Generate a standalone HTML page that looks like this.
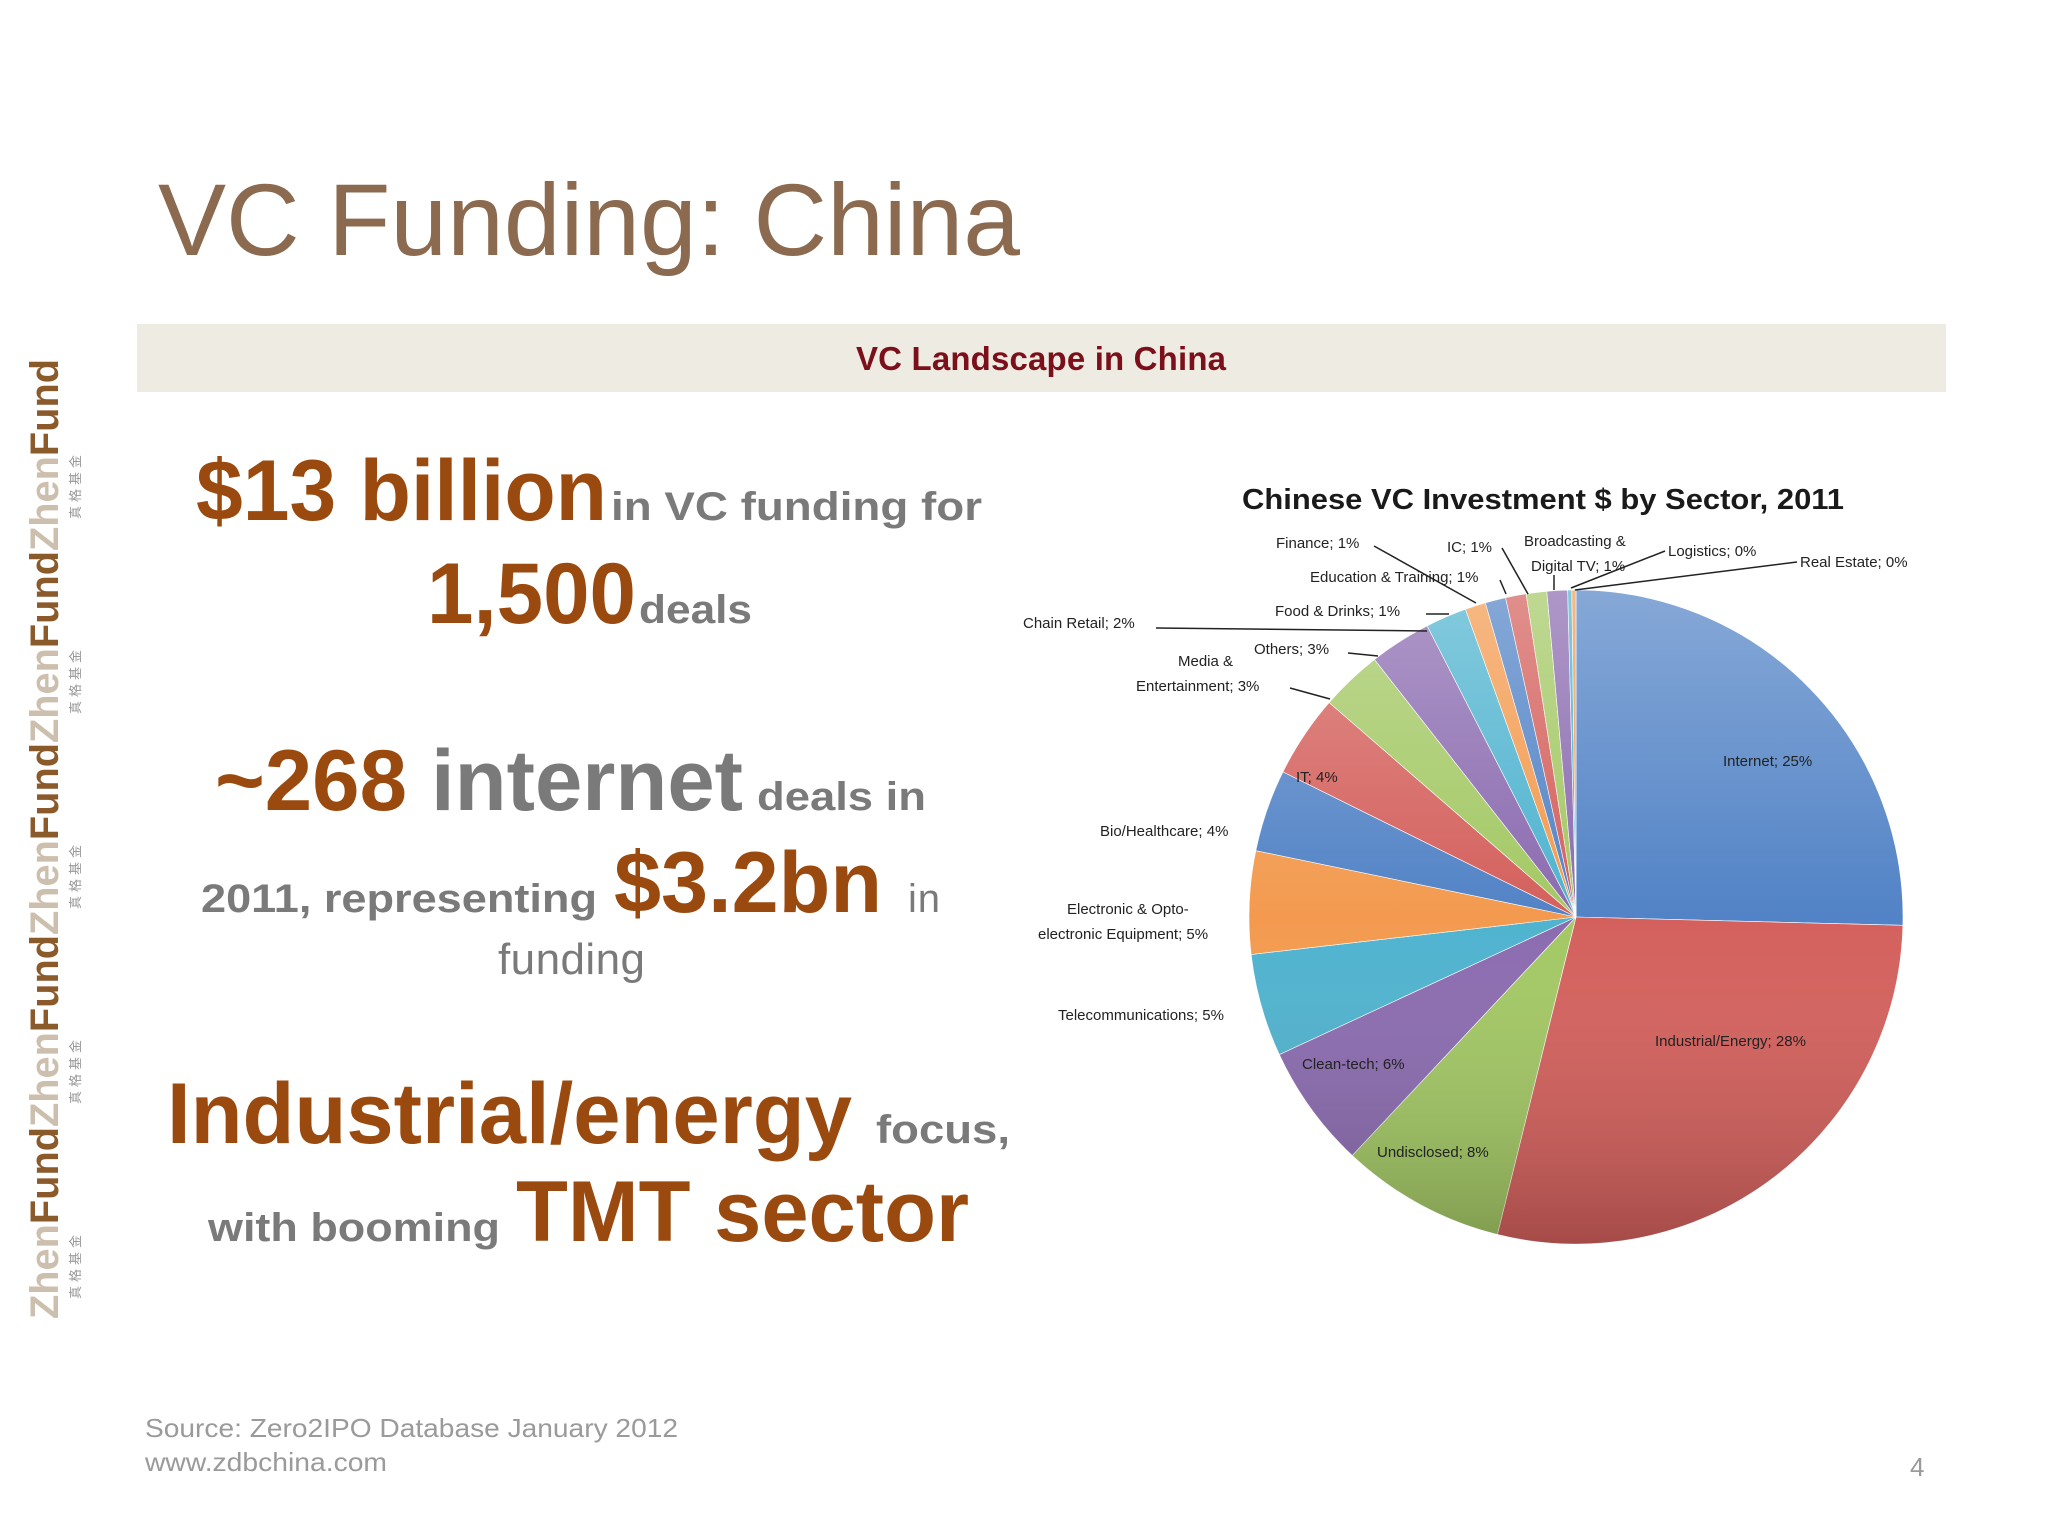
<!DOCTYPE html>
<html><head><meta charset="utf-8">
<style>
html,body{margin:0;padding:0;background:#fff;}
#slide{position:relative;width:2048px;height:1536px;overflow:hidden;background:#fff;font-family:"Liberation Sans",sans-serif;}
svg{position:absolute;left:0;top:0;}
</style></head>
<body>
<div id="slide">
<svg id="main" width="2048" height="1536" viewBox="0 0 2048 1536">
  <defs>
    <linearGradient id="shade" x1="0" y1="0" x2="0" y2="1">
      <stop offset="0" stop-color="#fff" stop-opacity="0.30"/>
      <stop offset="0.5" stop-color="#fff" stop-opacity="0.0"/>
      <stop offset="1" stop-color="#000" stop-opacity="0.22"/>
    </linearGradient>
  </defs>
  <text x="158" y="255" font-size="102" fill="#8C6A4F" textLength="862">VC Funding: China</text>
  <rect x="137" y="324" width="1809" height="68" fill="#EEEBE3"/>
  <text x="1041" y="370" font-size="33" font-weight="bold" fill="#7B0F1A" text-anchor="middle" textLength="370">VC Landscape in China</text>

  <g transform="translate(58,1319) rotate(-90)">
    <text x="0" y="0" font-size="40" font-weight="bold" textLength="960" lengthAdjust="spacingAndGlyphs"><tspan fill="#CDBFAE">Zhen</tspan><tspan fill="#8B5A2B">Fund</tspan><tspan fill="#CDBFAE">Zhen</tspan><tspan fill="#8B5A2B">Fund</tspan><tspan fill="#CDBFAE">Zhen</tspan><tspan fill="#8B5A2B">Fund</tspan><tspan fill="#CDBFAE">Zhen</tspan><tspan fill="#8B5A2B">Fund</tspan><tspan fill="#CDBFAE">Zhen</tspan><tspan fill="#8B5A2B">Fund</tspan></text>
    <text x="20" y="22" font-size="13" fill="#999" letter-spacing="4" font-family="'Noto Sans CJK SC',sans-serif">真格基金</text>
    <text x="215" y="22" font-size="13" fill="#999" letter-spacing="4" font-family="'Noto Sans CJK SC',sans-serif">真格基金</text>
    <text x="410" y="22" font-size="13" fill="#999" letter-spacing="4" font-family="'Noto Sans CJK SC',sans-serif">真格基金</text>
    <text x="605" y="22" font-size="13" fill="#999" letter-spacing="4" font-family="'Noto Sans CJK SC',sans-serif">真格基金</text>
    <text x="800" y="22" font-size="13" fill="#999" letter-spacing="4" font-family="'Noto Sans CJK SC',sans-serif">真格基金</text>
  </g>

  <g font-weight="bold">
    <text x="196" y="520" font-size="86" fill="#9A4A0E" textLength="411" lengthAdjust="spacingAndGlyphs">$13 billion</text>
    <text x="611" y="520" font-size="40" fill="#7A7A7A" textLength="371" lengthAdjust="spacingAndGlyphs">in VC funding for</text>
    <text x="427" y="623" font-size="86" fill="#9A4A0E" textLength="209" lengthAdjust="spacingAndGlyphs">1,500</text>
    <text x="639" y="623" font-size="40" fill="#7A7A7A" textLength="113" lengthAdjust="spacingAndGlyphs">deals</text>
    <text x="215" y="810" font-size="86" fill="#9A4A0E" textLength="192" lengthAdjust="spacingAndGlyphs">~268</text>
    <text x="431" y="810" font-size="86" fill="#7A7A7A" textLength="312" lengthAdjust="spacingAndGlyphs">internet</text>
    <text x="757" y="810" font-size="40" fill="#7A7A7A" textLength="169" lengthAdjust="spacingAndGlyphs">deals in</text>
    <text x="201" y="912" font-size="40" fill="#7A7A7A" textLength="396" lengthAdjust="spacingAndGlyphs">2011, representing</text>
    <text x="614" y="912" font-size="86" fill="#9A4A0E" textLength="268" lengthAdjust="spacingAndGlyphs">$3.2bn</text>
    <text x="908" y="912" font-size="40" font-weight="normal" fill="#7A7A7A" textLength="32">in</text>
    <text x="498" y="974" font-size="44" font-weight="normal" fill="#7A7A7A" textLength="147">funding</text>
    <text x="167" y="1143" font-size="86" fill="#9A4A0E" textLength="685" lengthAdjust="spacingAndGlyphs">Industrial/energy</text>
    <text x="876" y="1143" font-size="40" fill="#7A7A7A" textLength="134" lengthAdjust="spacingAndGlyphs">focus,</text>
    <text x="208" y="1241" font-size="40" fill="#7A7A7A" textLength="292" lengthAdjust="spacingAndGlyphs">with booming</text>
    <text x="516" y="1241" font-size="86" fill="#9A4A0E" textLength="453" lengthAdjust="spacingAndGlyphs">TMT sector</text>
  </g>

  <text x="145" y="1437" font-size="26" fill="#9A9A9A" textLength="533" lengthAdjust="spacingAndGlyphs">Source: Zero2IPO Database January 2012</text>
  <text x="145" y="1471" font-size="26" fill="#9A9A9A" textLength="242" lengthAdjust="spacingAndGlyphs">www.zdbchina.com</text>
  <text x="1910" y="1476" font-size="26" fill="#9A9A9A">4</text>

  <text x="1543" y="509" font-size="29" font-weight="bold" fill="#1a1a1a" text-anchor="middle" textLength="602" lengthAdjust="spacingAndGlyphs">Chinese VC Investment $ by Sector, 2011</text>
  <g id="pie"></g>
  <g id="labels" font-size="15" fill="#222"></g>
</svg>
</div>
<script>
const sectors = ["Internet","Industrial/Energy","Undisclosed","Clean-tech","Telecommunications","Electronic & Opto-electronic Equipment","Bio/Healthcare","IT","Media & Entertainment","Others","Chain Retail","Food & Drinks","Education & Training","Finance","IC","Broadcasting & Digital TV","Logistics","Real Estate"];
const shares = [25,28,8,6,5,5,4,4,3,3,2,1,1,1,1,1,0.2,0.2];
const printed = ["25%","28%","8%","6%","5%","5%","4%","4%","3%","3%","2%","1%","1%","1%","1%","1%","0%","0%"];
const palette = ["#5283C6","#D4605C","#A3C864","#8B6BB0","#4FB3CF","#F39A4F"];
// label layout: [line1, line2, x, y(baseline of last line), anchor, leader x1,y1,x2,y2]
const layout = [
 [null,"Internet; ",1723,766,"start"],
 [null,"Industrial/Energy; ",1655,1046,"start"],
 [null,"Undisclosed; ",1377,1157,"start"],
 [null,"Clean-tech; ",1302,1069,"start"],
 [null,"Telecommunications; ",1058,1020,"start"],
 ["Electronic & Opto-","electronic Equipment; ",1038,939,"start"],
 [null,"Bio/Healthcare; ",1100,836,"start"],
 [null,"IT; ",1296,782,"start"],
 ["Media & ","Entertainment; ",1136,691,"start",1290,688,1330,699],
 [null,"Others; ",1254,654,"start",1348,653,1378,656],
 [null,"Chain Retail; ",1023,628,"start",1156,628,1427,631],
 [null,"Food & Drinks; ",1275,616,"start",1426,614,1449,614],
 [null,"Education & Training; ",1310,582,"start",1500,580,1506,594],
 [null,"Finance; ",1276,548,"start",1374,546,1476,603],
 [null,"IC; ",1447,552,"start",1502,548,1528,594],
 ["Broadcasting & ","Digital TV; ",1524,571,"start",1554,575,1554,590],
 [null,"Logistics; ",1668,556,"start",1665,551,1571,588],
 [null,"Real Estate; ",1800,567,"start",1797,562,1575,590]
];
const NS="http://www.w3.org/2000/svg";
const cx=1576, cy=917, r=327;
const total=shares.reduce((a,b)=>a+b,0);
const angle=v=>v/total*2*Math.PI;
const pt=a=>[cx+r*Math.sin(a), cy-r*Math.cos(a)];
const pie=document.getElementById('pie');
let a0=0;
shares.forEach((v,i)=>{
  const a1=a0+angle(v);
  const p0=pt(a0),p1=pt(a1);
  const large=(a1-a0)>Math.PI?1:0;
  const path=document.createElementNS(NS,'path');
  path.setAttribute('d',`M${cx},${cy} L${p0[0]},${p0[1]} A${r},${r} 0 ${large} 1 ${p1[0]},${p1[1]} Z`);
  path.setAttribute('fill',palette[i%6]);
  path.setAttribute('stroke','#fff');
  path.setAttribute('stroke-width','0.6');
  
  
  pie.appendChild(path);
  a0=a1;
});
const shade=document.createElementNS(NS,'circle');
shade.setAttribute('cx',cx);shade.setAttribute('cy',cy);shade.setAttribute('r',r);
shade.setAttribute('fill','url(#shade)');


pie.appendChild(shade);
const lg=document.getElementById('labels');
layout.forEach((L,i)=>{
  if(L[0]){
    const t=document.createElementNS(NS,'text');
    t.setAttribute('x',L[2]+(i===8?42:(i===5?29:0)));t.setAttribute('y',L[3]-25);
    t.textContent=L[0];
    
    
    lg.appendChild(t);
  }
  const t=document.createElementNS(NS,'text');
  t.setAttribute('x',L[2]+(i===15?7:0));t.setAttribute('y',L[3]);
  t.textContent=L[1]+printed[i];
  
  
  lg.appendChild(t);
  if(L.length>5){
    const ln=document.createElementNS(NS,'line');
    ln.setAttribute('x1',L[5]);ln.setAttribute('y1',L[6]);ln.setAttribute('x2',L[7]);ln.setAttribute('y2',L[8]);
    ln.setAttribute('stroke','#222');ln.setAttribute('stroke-width','1.5');
    
    
    lg.appendChild(ln);
  }
});
</script>
</body></html>
